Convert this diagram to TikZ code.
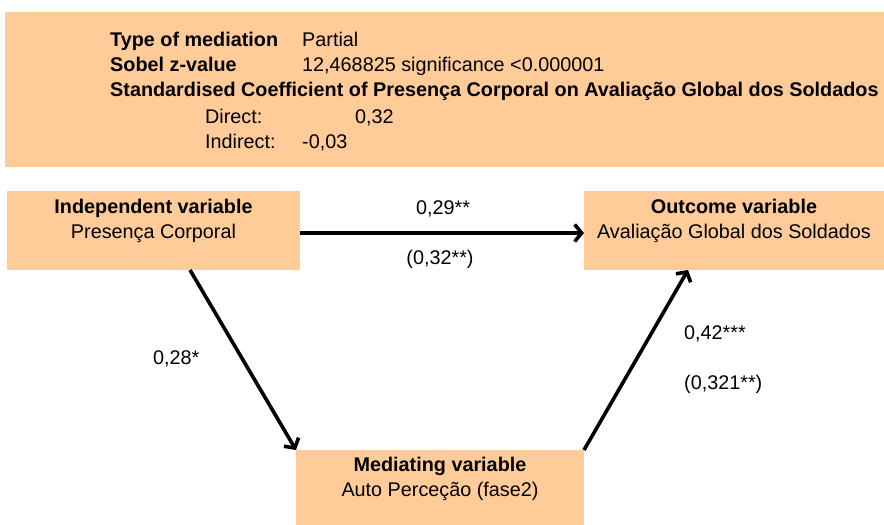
\documentclass[tikz,border=0pt]{standalone}
\usepackage{fontspec}
\setmainfont{Liberation Sans}
\usetikzlibrary{positioning,calc,arrows.meta}
\definecolor{peach}{HTML}{FFCC99}

\begin{document}
\begin{tikzpicture}[x=1pt,y=1pt,
				every node/.style={font=\fontsize{19.8}{24}\selectfont},
				box/.style={fill=peach,rectangle,inner sep=0pt,outer sep=0pt},
				txt/.style={anchor=base west,inner sep=0pt},
				ctxt/.style={anchor=base,inner sep=0pt},
				hd/.style={font=\fontsize{19.8}{24}\selectfont\bfseries},
				link/.style={line width=3.6pt,-{Straight Barb[length=7pt,width=17pt]}}]
				\useasboundingbox (0,0) rectangle (884,525);
				\node (summary)  [box,anchor=north west,minimum width=879pt,minimum height=155pt] at (5,513) {};
				\node (indep)    [box,minimum width=293pt,minimum height=79pt] at (153.5,294.5) {};
				\node (outcome)  [box,minimum width=300pt,minimum height=79pt] at (734,294.5) {};
				\node (mediator) [box,minimum width=288pt,minimum height=75pt] at (440,37.5) {};

				\node (typeK)   [txt,hd] at (110,478) {Type of mediation};
				\node (typeV)   [txt]    at (302,478) {Partial};
				\node (sobelK)  [txt,hd] at (110,453) {Sobel z-value};
				\node (sobelV)  [txt]    at (302,453) {12,468825 significance <0.000001};
				\node (coef)    [txt,hd] at (110,428) {Standardised Coefficient of Presença Corporal on Avaliação Global dos Soldados};
				\node (directK) [txt]    at (205,401) {Direct:};
				\node (directV) [txt]    at (355,401) {0,32};
				\node (indirK)  [txt]    at (205,376) {Indirect:};
				\node (indirV)  [txt]    at (302,376) {-0,03};

				\node (indepT)  [ctxt,hd] at ($(indep.north)+(0,-23)$)    {Independent variable};
				\node (indepN)  [ctxt]    at ($(indep.north)+(0,-48)$)    {Presença Corporal};
				\node (outT)    [ctxt,hd] at ($(outcome.north)+(0,-23)$)  {Outcome variable};
				\node (outN)    [ctxt]    at ($(outcome.north)+(0,-48)$)  {Avaliação Global dos Soldados};
				\node (medT)    [ctxt,hd] at ($(mediator.north)+(0,-22)$) {Mediating variable};
				\node (medN)    [ctxt]    at ($(mediator.north)+(0,-47)$) {Auto Perceção (fase2)};

				\draw[link] ([yshift=-2.5pt]indep.east) -- ([yshift=-2.5pt]outcome.west);
				\draw[link] ([xshift=36.5pt]indep.south) -- (mediator.north west);
				\draw[link] (mediator.north east) -- ([xshift=-46pt]outcome.south);

				\node (cTop)  [ctxt] at (443,310) {0,29**};
				\node (cTopB) [ctxt] at (440,260) {(0,32**)};
				\node (cLeft) [txt]  at (153,160) {0,28*};
				\node (cRgt)  [txt]  at (684,185) {0,42***};
				\node (cRgtB) [txt]  at (684,135) {(0,321**)};
			\end{tikzpicture}
\end{document}
